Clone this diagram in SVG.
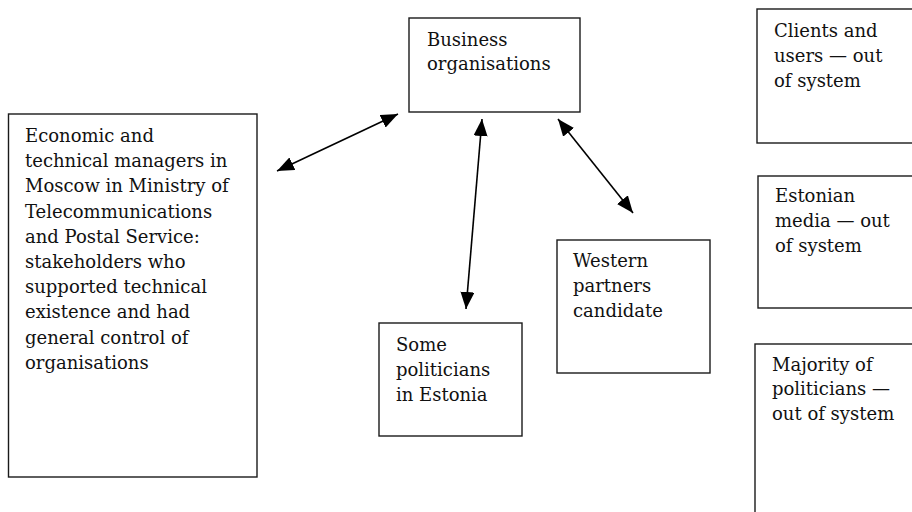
<svg xmlns="http://www.w3.org/2000/svg" width="912" height="512" viewBox="0 0 912 512">
  <style>
    .box { fill: #ffffff; stroke: #1a1a1a; stroke-width: 1.4; }
    .label { font-family: "DejaVu Serif", "Liberation Serif", serif; font-size: 18px; fill: #111111; }
    .link { stroke: #000000; stroke-width: 1.6; fill: none; marker-start: url(#head); marker-end: url(#head); }
  </style>
  <defs>
    <marker id="head" markerUnits="userSpaceOnUse" markerWidth="18" markerHeight="14" refX="17" refY="7" orient="auto-start-reverse">
      <path d="M0,0 L17,7 L0,14 Z" fill="#000000"/>
    </marker>
  </defs>
  <rect width="912" height="512" fill="#ffffff"/>

  <g id="node-business">
    <rect class="box" x="409" y="18" width="171" height="94"/>
    <text class="label" x="427" y="46">Business</text>
    <text class="label" x="427" y="70">organisations</text>
  </g>

  <g id="node-moscow">
    <rect class="box" x="8.5" y="114" width="248.5" height="363"/>
    <text class="label" x="25" y="142">Economic and</text>
    <text class="label" x="25" y="167.2">technical managers in</text>
    <text class="label" x="25" y="192.4">Moscow in Ministry of</text>
    <text class="label" x="25" y="217.6">Telecommunications</text>
    <text class="label" x="25" y="242.8">and Postal Service:</text>
    <text class="label" x="25" y="268">stakeholders who</text>
    <text class="label" x="25" y="293.2">supported technical</text>
    <text class="label" x="25" y="318.4">existence and had</text>
    <text class="label" x="25" y="343.6">general control of</text>
    <text class="label" x="25" y="368.8">organisations</text>
  </g>

  <g id="node-some-politicians">
    <rect class="box" x="379" y="323" width="143" height="113"/>
    <text class="label" x="396" y="351">Some</text>
    <text class="label" x="396" y="376">politicians</text>
    <text class="label" x="396" y="401">in Estonia</text>
  </g>

  <g id="node-western">
    <rect class="box" x="557" y="240" width="153" height="133"/>
    <text class="label" x="573" y="267">Western</text>
    <text class="label" x="573" y="292">partners</text>
    <text class="label" x="573" y="317">candidate</text>
  </g>

  <g id="node-clients">
    <rect class="box" x="757" y="9" width="170" height="134"/>
    <text class="label" x="774" y="37">Clients and</text>
    <text class="label" x="774" y="62">users — out</text>
    <text class="label" x="774" y="87">of system</text>
  </g>

  <g id="node-media">
    <rect class="box" x="758" y="176" width="170" height="132"/>
    <text class="label" x="775" y="202">Estonian</text>
    <text class="label" x="775" y="227">media — out</text>
    <text class="label" x="775" y="252">of system</text>
  </g>

  <g id="node-majority">
    <rect class="box" x="755" y="344" width="170" height="190"/>
    <text class="label" x="772" y="371">Majority of</text>
    <text class="label" x="772" y="395">politicians —</text>
    <text class="label" x="772" y="420">out of system</text>
  </g>

  <g id="connectors">
    <line class="link" x1="277" y1="171" x2="398" y2="114"/>
    <line class="link" x1="482" y1="119" x2="466" y2="309"/>
    <line class="link" x1="558" y1="119" x2="633" y2="213"/>
  </g>
</svg>
